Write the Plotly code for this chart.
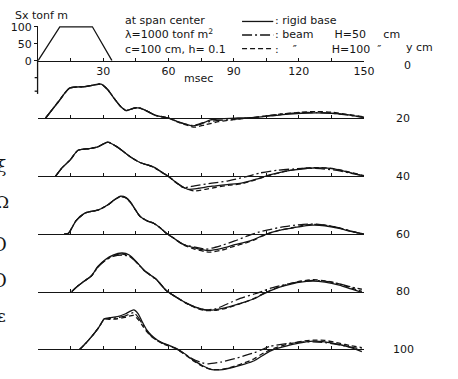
import plotly.graph_objects as go

W, H = 458, 379

# ---------------- data ----------------
# top panel: applied moment Sx (tonf m) vs time (msec)
load_t = [0, 10, 25, 34]
load_v = [0, 100, 100, 0]

# response panels, y = 20, 40, 60, 80, 100 cm
y_levels = [20, 40, 60, 80, 100]

# y = 20 cm
r20_t = [3.5, 9, 14.5, 22, 29, 32, 35, 38, 40.5, 43.5, 46, 49, 54, 60, 65, 71, 75, 79, 85, 92, 100, 107, 114, 121, 128, 135, 142, 150]
r20_v = [0, 45, 88, 93, 100, 84, 58, 34, 22, 28, 30, 24, 8, 0, -12, -23, -18, -6, -2, 0, 2, 6, 11, 14, 15, 14, 10, 2]
b50_20_t = [3.5, 9, 14.5, 22, 29, 32, 35, 38, 40.5, 43.5, 46, 49, 54, 60, 65, 71, 76, 82, 90, 100, 107, 114, 121, 128, 135, 142, 150]
b50_20_v = [0, 45, 88, 93, 100, 84, 58, 34, 22, 28, 31, 24, 8, 0, -13, -22, -14, -8, -4, 2, 8, 13, 16, 16, 14, 9, 2]
b100_20_t = [3.5, 9, 14.5, 22, 29, 32, 35, 38, 40.5, 43.5, 46, 49, 54, 60, 65, 72, 77, 83, 90, 100, 107, 114, 121, 128, 135, 142, 150]
b100_20_v = [0, 45, 88, 93, 100, 84, 58, 34, 22, 28, 31, 24, 8, 0, -14, -27, -20, -11, -5, 2, 8, 13, 17, 19, 17, 11, 3]

# y = 40 cm
r40_t = [8, 11, 14.7, 18.4, 23.7, 27.5, 32, 36.4, 42.4, 46.9, 53, 57.5, 60, 64, 69, 74, 80, 87, 93.5, 100, 107, 113, 118, 124, 130, 136, 143, 150]
r40_v = [0, 25, 48, 77, 82, 87, 101, 87, 58, 41, 28, 10, 0, -20, -38, -35, -29, -24, -20, -9, 5, 14, 19, 24, 25, 22, 12, 1]
b50_40_t = [8, 11, 14.7, 18.4, 23.7, 27.5, 32, 36.4, 42.4, 46.9, 53, 57.5, 60, 64, 67, 72, 80, 87.5, 95, 102, 110, 117.6, 124, 130, 136, 143, 150]
b50_40_v = [0, 25, 48, 77, 82, 87, 101, 87, 58, 41, 28, 10, 0, -20, -33, -28, -20, -13, -2, 10, 18, 22, 24, 23, 19, 11, 1]
b100_40_t = [8, 11, 14.7, 18.4, 23.7, 27.5, 32, 36.4, 42.4, 46.9, 53, 57.5, 60, 66, 72, 77, 82, 88, 93.5, 100, 107, 113, 118, 124, 130, 136, 143, 150]
b100_40_v = [0, 25, 48, 77, 82, 87, 101, 87, 58, 41, 28, 10, 0, -30, -43, -38, -32, -26, -22, -10, 4, 14, 20, 25, 26, 23, 13, 2]

# y = 60 cm
r60_t = [12, 14, 17.5, 21.5, 25, 27.5, 32, 35, 38, 40.5, 42.5, 45, 47, 50, 53, 56, 59, 62.5, 66.5, 72, 78.5, 84.5, 90.5, 95, 99.5, 103, 107, 112, 117.6, 122, 126.5, 132, 138.6, 144, 150]
r60_v = [0, 3, 40, 62, 68, 71, 86, 101, 112, 108, 95, 70, 52, 40, 33, 20, 3, -12, -29, -40, -48, -42, -31, -24, -15, -5, 5, 13, 19, 24, 27, 25, 17, 8, 0]
b50_60_t = [12, 14, 17.5, 21.5, 25, 27.5, 32, 35, 38, 40.5, 42.5, 45, 47, 50, 53, 56, 59, 62.5, 66.5, 72, 77, 80, 84.5, 90.5, 96.5, 102, 107, 112, 117.6, 122, 126.5, 132, 138.6, 144, 150]
b50_60_v = [0, 3, 40, 62, 68, 71, 86, 101, 111, 107, 94, 70, 52, 40, 33, 20, 3, -12, -29, -38, -44, -41, -33, -20, -5, 7, 14, 21, 26, 29, 30, 27, 19, 9, 0]
b100_60_t = [12, 14, 17.5, 21.5, 25, 27.5, 32, 35, 38, 40.5, 42.5, 45, 47, 50, 53, 56, 59, 62.5, 66.5, 72, 79, 84.5, 90.5, 95, 99.5, 103, 107, 112, 117.6, 122, 126.5, 132, 138.6, 144, 150]
b100_60_v = [0, 3, 40, 62, 68, 71, 86, 101, 111, 107, 94, 70, 52, 40, 33, 20, 3, -12, -30, -44, -53, -47, -35, -27, -17, -6, 4, 13, 20, 26, 29, 27, 19, 9, 0]

# y = 80 cm
r80_t = [15.5, 18, 21, 24.5, 27.5, 31, 34.5, 38.7, 42, 45, 48.5, 51.5, 54.5, 59, 63.5, 68, 72.5, 77, 82, 86, 90.5, 95, 99.5, 103, 107, 110.5, 114.5, 120, 126.5, 132, 138.6, 144, 149]
r80_v = [0, 15, 30, 46, 74, 95, 108, 114, 108, 90, 65, 50, 36, 3, -16, -33, -46, -54, -53, -48, -40, -31, -21, -9, 3, 12, 19, 27, 31, 28, 19, 8, -2]
b50_80_t = [15.5, 18, 21, 24.5, 27.5, 31, 34.5, 38.7, 42, 45, 48.5, 51.5, 54.5, 59, 63.5, 68, 72.5, 77, 82, 87.5, 93, 99.5, 104, 107, 114.5, 120, 126.5, 132, 138.6, 144, 149]
b50_80_v = [0, 15, 30, 46, 72, 92, 104, 108, 104, 88, 64, 49, 35, 3, -16, -33, -46, -54, -50, -35, -20, -7, 3, 10, 22, 29, 33, 31, 23, 14, 7]
b100_80_t = [15.5, 18, 21, 24.5, 27.5, 31, 34.5, 38.7, 42, 45, 48.5, 51.5, 54.5, 59, 63.5, 68, 72.5, 77, 82, 86, 90.5, 95, 99.5, 103, 107, 110.5, 114.5, 120, 126.5, 132, 138.6, 144, 149]
b100_80_v = [0, 15, 30, 46, 73, 93, 106, 111, 106, 89, 65, 50, 36, 3, -16, -34, -48, -56, -55, -50, -41, -31, -20, -8, 4, 13, 21, 30, 35, 32, 23, 11, 1]

# y = 100 cm
r100_t = [19.2, 22, 25, 28, 30.5, 33, 36.5, 40, 44, 46, 48, 50, 52, 54.5, 57.5, 60.5, 63.5, 66.5, 71, 75.5, 80, 85, 90.5, 95, 99.5, 103, 107, 110.5, 114.5, 120, 126.5, 132, 138.6, 144, 149]
r100_v = [0, 18, 40, 65, 90, 93, 96, 104, 116, 105, 80, 57, 42, 29, 18, 11, 3, -9, -30, -48, -60, -60, -52, -44, -34, -20, -5, 3, 10, 18, 24, 22, 14, 5, -7]
b50_100_t = [19.2, 22, 25, 28, 30.5, 33, 36.5, 40, 44, 46, 48, 50, 52, 54.5, 57.5, 60.5, 63.5, 66.5, 71, 75.5, 78.5, 84, 90.5, 95, 99.5, 103, 107, 114.5, 120, 126.5, 132, 138.6, 144, 149]
b50_100_v = [0, 18, 40, 65, 90, 90, 93, 98, 108, 95, 75, 55, 40, 28, 17, 10, 2, -10, -28, -40, -43, -38, -28, -19, -10, -1, 9, 17, 21, 22, 20, 13, 6, 0]
b100_100_t = [19.2, 22, 25, 28, 30.5, 33, 36.5, 40, 44, 46, 48, 50, 52, 54.5, 57.5, 60.5, 63.5, 66.5, 71, 75.5, 80, 85, 90.5, 95, 99.5, 103, 107, 110.5, 114.5, 120, 126.5, 132, 138.6, 144, 149]
b100_100_v = [0, 18, 40, 65, 89, 88, 90, 94, 100, 88, 70, 52, 38, 27, 16, 9, 1, -11, -32, -50, -60, -59, -50, -40, -28, -14, -1, 7, 14, 22, 27, 26, 18, 10, 5]

panels = [
    ((r20_t, r20_v), (b50_20_t, b50_20_v), (b100_20_t, b100_20_v)),
    ((r40_t, r40_v), (b50_40_t, b50_40_v), (b100_40_t, b100_40_v)),
    ((r60_t, r60_v), (b50_60_t, b50_60_v), (b100_60_t, b100_60_v)),
    ((r80_t, r80_v), (b50_80_t, b50_80_v), (b100_80_t, b100_80_v)),
    ((r100_t, r100_v), (b50_100_t, b50_100_v), (b100_100_t, b100_100_v)),
]

x_ticks = [0, 15, 30, 45, 60, 75, 90, 105, 120, 135, 150]
x_label_vals = [30, 60, 90, 120, 150]
top_y_ticks = [0, 50, 100]
ext_y_ticks = [-90, -50]

# ---------------- layout geometry ----------------
def py(p):
    return 1 - p / H

def px(p):
    return p / W

SCALE = 0.35            # pixels per tonf m
X0, X1 = 39, 373        # x pixel span of the time axes
TOP_BASE = 57.5
baselines = [116.7, 177, 236.7, 296, 355.5]
LO, HI = -66, 125

INK = "#151515"
FONT = "DejaVu Sans"
styles = ["solid", "10px,3px,2px,3px", "5px,3px"]

fig = go.Figure()

fig.add_trace(go.Scatter(x=load_t, y=load_v, mode="lines", xaxis="x", yaxis="y",
                         line=dict(color=INK, width=1.3), showlegend=False))

layout = dict(
    width=W, height=H, margin=dict(l=0, r=0, t=0, b=0),
    paper_bgcolor="white", plot_bgcolor="rgba(0,0,0,0)", showlegend=False,
    font=dict(family=FONT, color=INK, size=12),
)

axis_common = dict(showgrid=False, zeroline=False, showline=True, linecolor=INK, linewidth=1,
                   tickcolor=INK, tickwidth=1, fixedrange=True)

top_hi = 102
layout["xaxis"] = dict(axis_common, domain=[px(X0), px(X1)], range=[0, 150], anchor="y",
                       ticks="inside", ticklen=3,
                       tickmode="array", tickvals=x_label_vals,
                       ticktext=[str(v) for v in x_label_vals],
                       minor=dict(tickmode="array", tickvals=x_ticks, ticks="inside",
                                  ticklen=3, tickcolor=INK, showgrid=False),
                       tickfont=dict(family=FONT, size=11, color=INK))
layout["yaxis"] = dict(axis_common, domain=[py(TOP_BASE), py(TOP_BASE - top_hi * SCALE)],
                       range=[0, top_hi], anchor="x",
                       ticks="outside", ticklen=3, tickmode="array",
                       tickvals=top_y_ticks, ticktext=[str(v) for v in top_y_ticks],
                       tickfont=dict(family=FONT, size=11, color=INK))

for k, series in enumerate(panels):
    i = k + 2
    yb = baselines[k]
    layout[f"xaxis{i}"] = dict(axis_common, overlaying="x", range=[0, 150], anchor="free",
                               position=py(yb), ticks="inside", ticklen=3, tickmode="array",
                               tickvals=x_ticks, showticklabels=False)
    layout[f"yaxis{i}"] = dict(domain=[py(yb - LO * SCALE), py(yb - HI * SCALE)],
                               range=[LO, HI], visible=False, anchor=f"x{i}", fixedrange=True)
    for (tt, vv), dash in zip(series, styles):
        fig.add_trace(go.Scatter(x=tt, y=vv, mode="lines", xaxis=f"x{i}", yaxis=f"y{i}",
                                 line=dict(color=INK, width=1.3, dash=dash,
                                           shape="spline", smoothing=0.6),
                                 showlegend=False))

ann = []
def text(t, x, y, xanchor="left", size=11, family=FONT):
    ann.append(dict(text=t, x=px(x), y=py(y), xref="paper", yref="paper", showarrow=False,
                    xanchor=xanchor, yanchor="middle", align="left", borderpad=0,
                    font=dict(family=family, size=size, color=INK)))

NB = "\u00a0"
DITTO = "\u2033"
text("Sx tonf m", 14, 11)
text("at span center<br>λ=1000 tonf m<sup>2</sup><br>c=100 cm, h= 0.1", 127, 31)
text("msec", 203, 76, xanchor="center")
legend_lines = [
    ": rigid base",
    ": beam" + NB * 6 + "H=50" + NB * 5 + "cm",
    ":" + NB * 4 + DITTO + NB * 10 + "H=100" + NB * 2 + DITTO,
]
text("<br>".join(legend_lines), 281, 31)
text("y cm", 430, 44, xanchor="center")
text("0", 418, 62, xanchor="center")
for lvl, yb in zip(y_levels, baselines):
    text(str(lvl), 413, yb, xanchor="center")

# cropped glyphs of the neighbouring page at the left edge
text("ξ", -4, 166, size=17, family="DejaVu Serif")
text("Ω", -6, 203, size=17, family="DejaVu Serif")
text("O", -9, 247, size=18, family="DejaVu Serif")
text("O", -9, 284, size=18, family="DejaVu Serif")
text("ε", -4, 321, size=17, family="DejaVu Serif")

layout["annotations"] = ann

shapes = []
# legend key samples
for yy, dash in zip([17, 31, 45], styles):
    shapes.append(dict(type="line", xref="paper", yref="paper", x0=px(248), x1=px(280),
                       y0=py(yy), y1=py(yy), line=dict(color=INK, width=1.3, dash=dash)))
# the Sx axis line continued below the time axis (same scale), with its ticks
ext_lo = -98
shapes.append(dict(type="line", xref="paper", yref="paper", x0=px(X0 - 0.5), x1=px(X0 - 0.5),
                   y0=py(TOP_BASE), y1=py(TOP_BASE - ext_lo * SCALE),
                   layer="above", line=dict(color=INK, width=1.3)))
for tv in ext_y_ticks:
    shapes.append(dict(type="line", xref="paper", yref="paper", x0=px(X0 - 3.5), x1=px(X0 - 0.5),
                       y0=py(TOP_BASE - tv * SCALE), y1=py(TOP_BASE - tv * SCALE),
                       layer="above", line=dict(color=INK, width=1.3)))
layout["shapes"] = shapes

fig.update_layout(**layout)
fig.write_html("out.html")
